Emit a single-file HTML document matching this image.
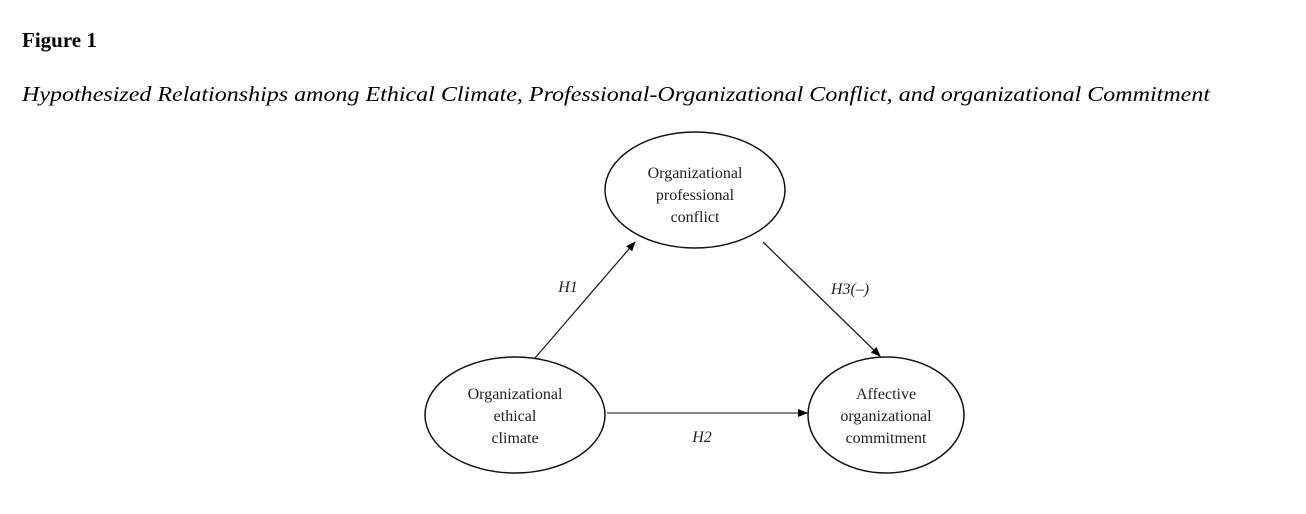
<!DOCTYPE html>
<html><head><meta charset="utf-8"><style>
html,body{margin:0;padding:0;background:#fff;}
svg{display:block;}
svg text{font-family:"Liberation Serif","Times New Roman",serif;}
</style></head><body>
<svg width="1306" height="514" viewBox="0 0 1306 514" xmlns="http://www.w3.org/2000/svg">
<defs>
<marker id="ah" markerWidth="10" markerHeight="8" refX="9" refY="4" orient="auto" markerUnits="userSpaceOnUse">
<path d="M0,0 L10,4 L0,8 Z" fill="#000"/>
</marker>
</defs>
<text x="22" y="47" font-size="21" font-weight="bold">Figure 1</text>
<text x="22" y="101" font-size="21" font-style="italic" textLength="1188" lengthAdjust="spacingAndGlyphs">Hypothesized Relationships among Ethical Climate, Professional-Organizational Conflict, and organizational Commitment</text>

<g fill="none" stroke="#111" stroke-width="1.5">
<ellipse cx="695" cy="190" rx="90" ry="58"/>
<ellipse cx="515" cy="415" rx="90" ry="58"/>
<ellipse cx="886" cy="415" rx="78" ry="58"/>
</g>
<g stroke="#222" stroke-width="1.3">
<line x1="535" y1="358" x2="635" y2="242" marker-end="url(#ah)"/>
<line x1="763" y1="242" x2="880" y2="356" marker-end="url(#ah)"/>
<line x1="607" y1="413" x2="807" y2="413" stroke="#888" stroke-width="2" marker-end="url(#ah)"/>
</g>
<g font-size="16" text-anchor="middle" fill="#222">
<text x="695" y="178">Organizational</text>
<text x="695" y="200">professional</text>
<text x="695" y="222">conflict</text>
<text x="515" y="399">Organizational</text>
<text x="515" y="421">ethical</text>
<text x="515" y="443">climate</text>
<text x="886" y="399">Affective</text>
<text x="886" y="421">organizational</text>
<text x="886" y="443">commitment</text>
</g>
<g font-size="16" font-style="italic" text-anchor="middle" fill="#222">
<text x="568" y="292">H1</text>
<text x="850" y="294">H3(–)</text>
<text x="702" y="442">H2</text>
</g>
</svg>
</body></html>
